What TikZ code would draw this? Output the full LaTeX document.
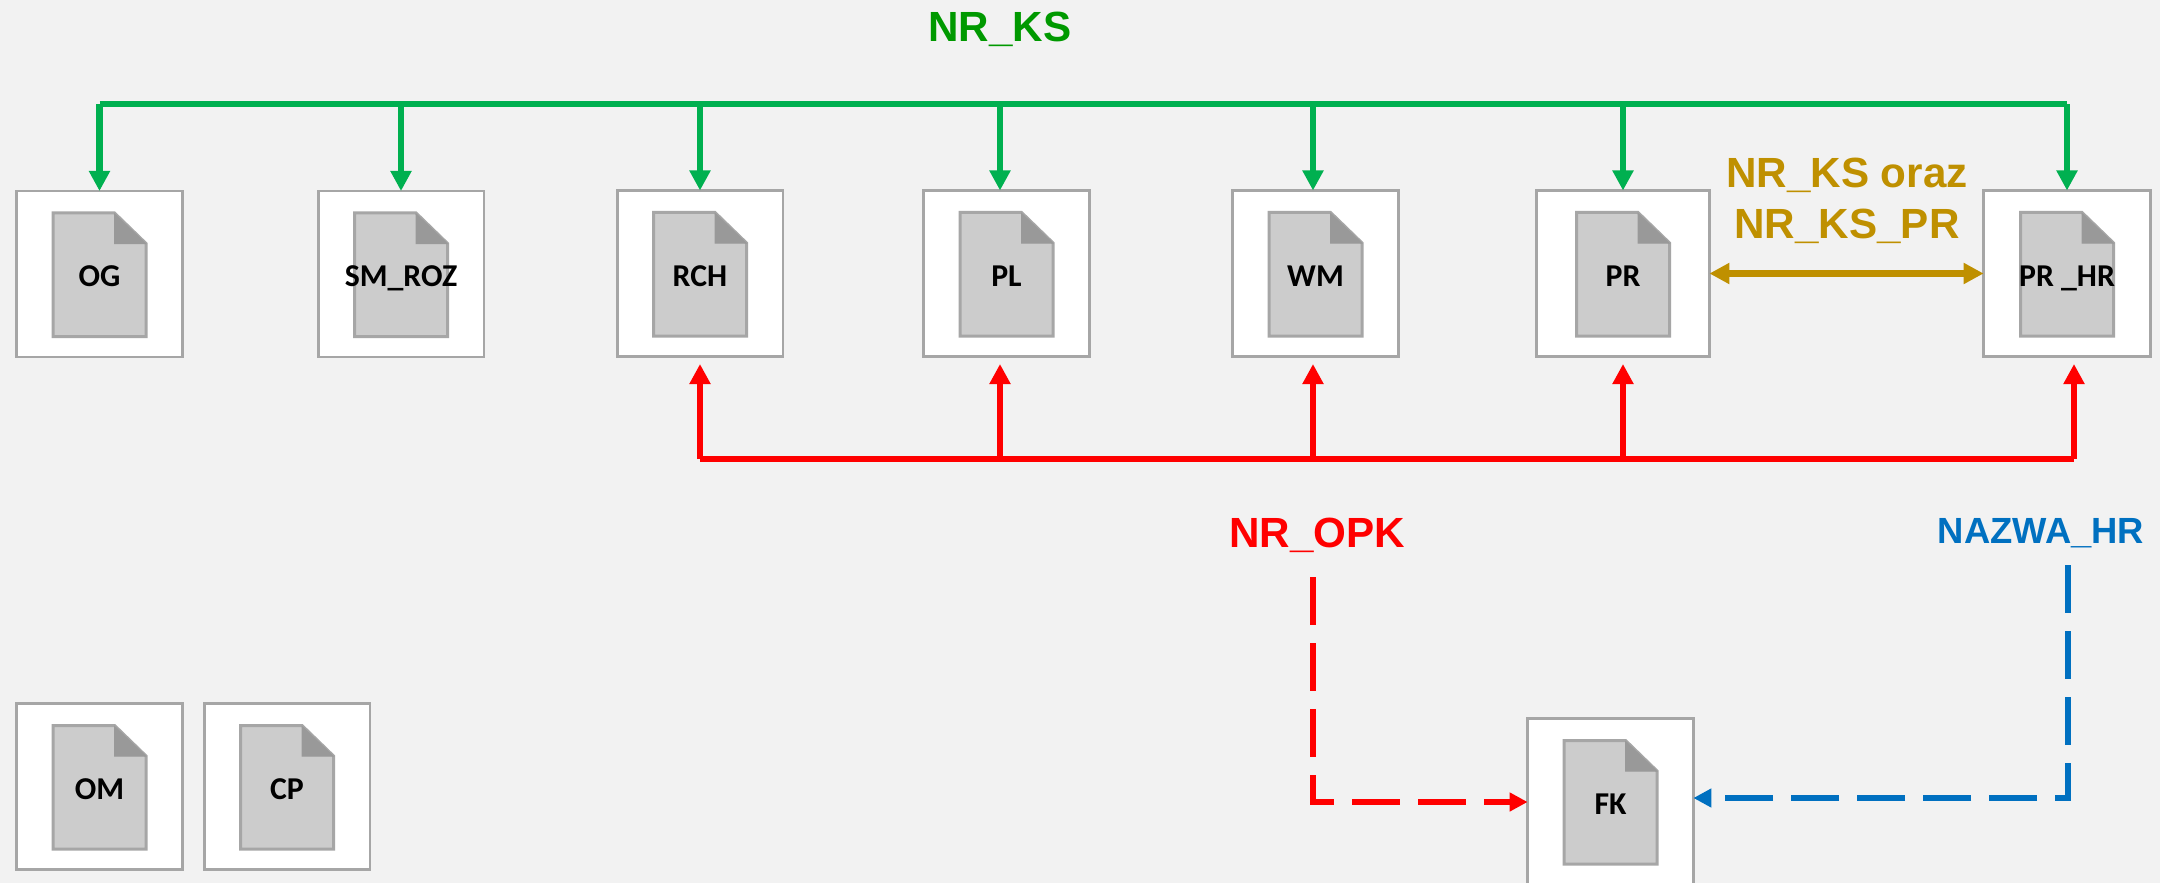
\documentclass[tikz,border=0pt]{standalone}
\usepackage{fontspec}
\setmainfont{Liberation Sans}
\newfontfamily\carlito{Carlito}
\usetikzlibrary{arrows.meta}
\definecolor{bgc}{HTML}{F2F2F2}
\definecolor{edgec}{HTML}{A6A6A6}
\definecolor{docc}{HTML}{CCCCCC}
\definecolor{foldc}{HTML}{999999}
\definecolor{ksc}{HTML}{00B050}
\definecolor{kstext}{HTML}{009900}
\definecolor{goldc}{HTML}{BF9000}
\definecolor{redc}{HTML}{FF0000}
\definecolor{bluec}{HTML}{0070C0}
\tikzset{
  x=0.5pt,y=-0.5pt,
  filebox/.style={draw=edgec,fill=white,line width=1.4pt,minimum height=83pt,inner sep=0pt,outer sep=0pt},
  docbody/.style={draw=edgec,fill=docc,line width=1.5pt,line join=miter},
  docfold/.style={fill=foldc,draw=foldc,line width=0.5pt},
  filelabel/.style={font=\carlito\bfseries\fontsize{15.9}{18}\selectfont,text=black,inner sep=0pt,anchor=base},
  bigtext/.style={font=\bfseries\fontsize{21.1}{25.5}\selectfont,inner sep=0pt,align=center,anchor=base},
  ksline/.style={draw=ksc,line width=3.4pt},
  ksarrow/.style={draw=ksc,line width=3.25pt,-{Triangle[length=10pt,width=10pt,fill=ksc]}},
  redline/.style={draw=redc,line width=3.4pt},
  redarrow/.style={draw=redc,line width=3.25pt,-{Triangle[length=10pt,width=10pt,fill=redc]}},
  goldarrow/.style={draw=goldc,line width=3.4pt,{Triangle[length=10pt,width=10pt,fill=goldc]}-{Triangle[length=10pt,width=10pt,fill=goldc]}},
  reddash/.style={draw=redc,line width=3.4pt,dash pattern=on 24pt off 9pt,-{Triangle[length=9pt,width=9pt,fill=redc]}},
  bluedash/.style={draw=bluec,line width=3.4pt,dash pattern=on 24pt off 9pt,-{Triangle[length=9pt,width=9pt,fill=bluec]}},
}
% id, centre x, top y, box width (px), label
\newcommand{\filedoc}[5]{%
  \node[filebox,minimum width=#4*0.5pt-0.6pt] (#1) at (#2,#3+83.5) {};
  \draw[docbody] (#2-46.5,#3+22.5) -- (#2+15,#3+22.5) -- (#2+46.5,#3+53) -- (#2+46.5,#3+146) -- (#2-46.5,#3+146) -- cycle;
  \draw[docfold] (#2+15,#3+23.5) -- (#2+46,#3+53) -- (#2+15,#3+53) -- cycle;
  \node[filelabel] (#1-label) at (#2,#3+96) {#5};
}
\begin{document}
\begin{tikzpicture}
\fill[bgc] (0,0) rectangle (2160,883);
\useasboundingbox (0,0) rectangle (2160,883);
\clip (0,0) rectangle (2160,883);

\filedoc{OG}{99.5}{190.5}{167}{OG}
\filedoc{SMROZ}{401}{190.5}{167}{SM\_ROZ}
\filedoc{RCH}{700}{190}{167}{RCH}
\filedoc{PL}{1006.5}{190}{167}{PL}
\filedoc{WM}{1315.5}{190}{167}{WM}
\filedoc{PR}{1623}{190}{174}{PR}
\filedoc{PRHR}{2067}{190}{168}{PR \_HR}
\filedoc{OM}{99.5}{703}{167}{OM}
\filedoc{CP}{287}{703}{167}{CP}
\filedoc{FK}{1610.5}{718}{167}{FK}

\node[bigtext,text=kstext] (ttlKS) at (1000,41.5) {NR\_KS};
\node[bigtext,text=goldc,anchor=center] (ttlGold) at (1847,201) {NR\_KS oraz\\NR\_KS\_PR};
\node[bigtext,text=redc] (ttlOPK) at (1317,547) {NR\_OPK};
\node[bigtext,text=bluec,font=\bfseries\fontsize{18.2}{22}\selectfont] (ttlHR) at (2041,543) {NAZWA\_HR};

% green bus
\coordinate (ksL) at (99.5,104);
\coordinate (ksR) at (2067,104);
\coordinate (ksPL) at (1000,104);
\coordinate (ksWM) at (1313,104);
\draw[ksline] (ksL) -- (ksR);
\draw[ksarrow] (ksL) -- (OG.north);
\draw[ksarrow] (SMROZ.north |- ksL) -- (SMROZ.north);
\draw[ksarrow] (RCH.north |- ksL) -- (RCH.north);
\draw[ksarrow] (ksPL) -- (ksPL |- PL.north);
\draw[ksarrow] (ksWM) -- (ksWM |- WM.north);
\draw[ksarrow] (PR.north |- ksL) -- (PR.north);
\draw[ksarrow] (ksR) -- (PRHR.north);

% gold link
\draw[goldarrow] (PR.east) -- (PRHR.west);

% red bus
\coordinate (opkL) at (700,459);
\coordinate (opkR) at (2074,459);
\coordinate (opkPL) at (1000,459);
\coordinate (opkWM) at (1313,459);
\coordinate (opkPR) at (1623,459);
\coordinate (opkTip) at (700,364);
\draw[redline] (opkL) -- (opkR);
\draw[redarrow] (opkL) -- (opkTip);
\draw[redarrow] (opkPL) -- (opkPL |- opkTip);
\draw[redarrow] (opkWM) -- (opkWM |- opkTip);
\draw[redarrow] (opkPR) -- (opkPR |- opkTip);
\draw[redarrow] (opkR) -- (opkR |- opkTip);

% dashed links
\coordinate (opkStart) at (1313,577);
\coordinate (opkCorner) at (1313,802);
\coordinate (hrStart) at (2068,565);
\coordinate (hrCorner) at (2068,798);
\draw[reddash] (opkStart) -- (opkCorner) -- (FK.west |- opkCorner);
\draw[bluedash] (hrStart) -- (hrCorner) -- (FK.east |- hrCorner);
\end{tikzpicture}
\end{document}
